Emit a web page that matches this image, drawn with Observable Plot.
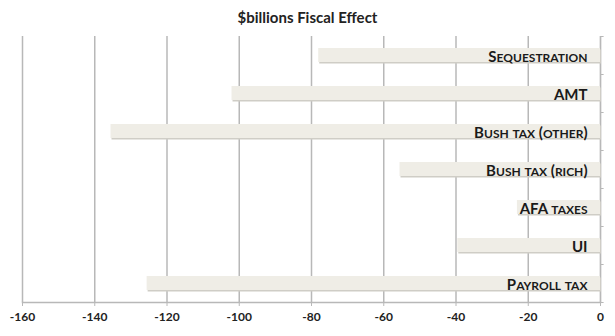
<!DOCTYPE html>
<html>
<head>
<meta charset="utf-8">
<script src="https://cdn.jsdelivr.net/npm/d3@7"></script>
<script src="https://cdn.jsdelivr.net/npm/@observablehq/plot@0.6"></script>
<style>
  body { margin: 0; background: #fff; font-family: Lato, "Open Sans", sans-serif; }
  #title { height: 30px; line-height: 34px; text-align: center; font-weight: bold; font-size: 15px; color: #222; width: 615px; }
  #chart svg { display: block; }
</style>
</head>
<body>
<div id="title">$billions Fiscal Effect</div>
<div id="chart"></div>
<script>
const categories = ["Sequestration", "AMT", "Bush tax (other)", "Bush tax (rich)", "AFA taxes", "UI", "Payroll tax"];
const values = [-78, -102, -135.5, -55.5, -23, -39.5, -125.5];
const xTicks = [-160, -140, -120, -100, -80, -60, -40, -20, 0];

const data = categories.map((c, i) => ({category: c, value: values[i]}));

const chart = Plot.plot({
  width: 615,
  height: 306,
  marginLeft: 22,
  marginRight: 15,
  marginTop: 6,
  marginBottom: 34,
  style: {fontFamily: "Lato, 'Open Sans', sans-serif", background: "#fff"},
  x: {domain: [-160, 0], ticks: xTicks, label: null},
  y: {domain: categories, paddingInner: 0.62, paddingOuter: 0.31, label: null, axis: null},
  marks: [
    Plot.gridX(xTicks, {stroke: "#b8b8b8", strokeOpacity: 1, strokeWidth: 1.5}),
    Plot.frame({anchor: "bottom", stroke: "#b8b8b8", strokeWidth: 1.5}),
    Plot.frame({anchor: "right", stroke: "#b8b8b8", strokeWidth: 1.2}),
    Plot.ruleY(categories, {y: d => d, x1: 0, x2: 1, dy: 19, stroke: "#b8b8b8"}),
    Plot.ruleY(categories.slice(0, 1), {y: d => d, x1: 0, x2: 1, dy: -19, stroke: "#b8b8b8"}),
    Plot.barX(data, {y: "category", x1: "value", x2: 0, fill: "#cfcdc6", dx: 1, dy: 1.5}),
    Plot.barX(data, {y: "category", x1: "value", x2: 0, fill: "#efede6"}),
    Plot.text(data, {
      y: "category", x: 0, text: "category", textAnchor: "end", dx: -13, dy: 1.5,
      fontSize: 15, fontWeight: "bold", fill: "#1a1a1a", className: "cat-label"
    }),
    Plot.axisX({ticks: xTicks, tickSize: 4, tickPadding: 6, fontSize: 12, fontWeight: "bold", stroke: "#b8b8b8", color: "#222", tickFormat: d => String(d)})
  ]
});
document.getElementById("chart").appendChild(chart);

// render labels as small caps: capitals large, lower-case as smaller capitals
d3.select(chart).selectAll("g.cat-label text").each(function() {
  const t = d3.select(this);
  const s = t.text();
  t.text(null);
  const runs = s.match(/[a-z]+|[^a-z]+/g) || [];
  runs.forEach(r => {
    const lower = /^[a-z]+$/.test(r);
    t.append("tspan")
      .attr("font-size", lower ? 12 : 15)
      .text(lower ? r.toUpperCase() : r);
  });
});
</script>
</body>
</html>
